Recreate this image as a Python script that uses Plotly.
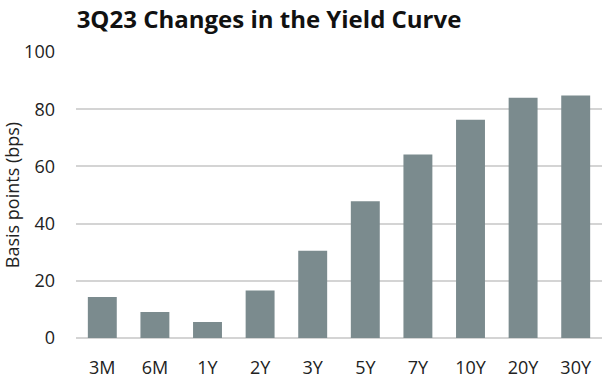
import plotly.graph_objects as go

tenors = ["3M", "6M", "1Y", "2Y", "3Y", "5Y", "7Y", "10Y", "20Y", "30Y"]
changes_bps = [14.3, 9.1, 5.6, 16.6, 30.5, 47.8, 64.2, 76.3, 84.0, 84.8]
y_ticks = [0, 20, 40, 60, 80, 100]

fig = go.Figure(go.Bar(x=tenors, y=changes_bps, marker_color="#7b8b8e",
                       marker_line_width=0))
fig.update_layout(
    width=606, height=379,
    margin=dict(l=76, r=4, t=52, b=41, autoexpand=False),
    paper_bgcolor="white", plot_bgcolor="white",
    bargap=0.45,
    showlegend=False,
    title=dict(text="<b>3Q23 Changes in the Yield Curve</b>", x=269 / 606, xanchor="center",
               y=1 - 20 / 379, yanchor="middle",
               font=dict(family="Open Sans", size=24, color="#111111")),
    font=dict(family="Open Sans", color="#222222"),
)
fig.update_xaxes(tickfont=dict(size=18, color="#222222"), showline=False, ticks="",
                 ticklabelstandoff=17, automargin=False)
fig.update_yaxes(range=[0, 100], tickvals=y_ticks, showgrid=True, gridcolor="#d4d4d4",
                 gridwidth=1.5, zeroline=True, zerolinecolor="#d4d4d4", zerolinewidth=1.5,
                 tickfont=dict(size=18, color="#222222"), ticks="",
                 ticklabelstandoff=20, automargin=False,
                 title=dict(text="Basis points (bps)", font=dict(size=18, color="#222222"),
                            standoff=0))
fig.write_html("out.html", config={"displayModeBar": False},
               post_script="document.body.style.margin='0';")
